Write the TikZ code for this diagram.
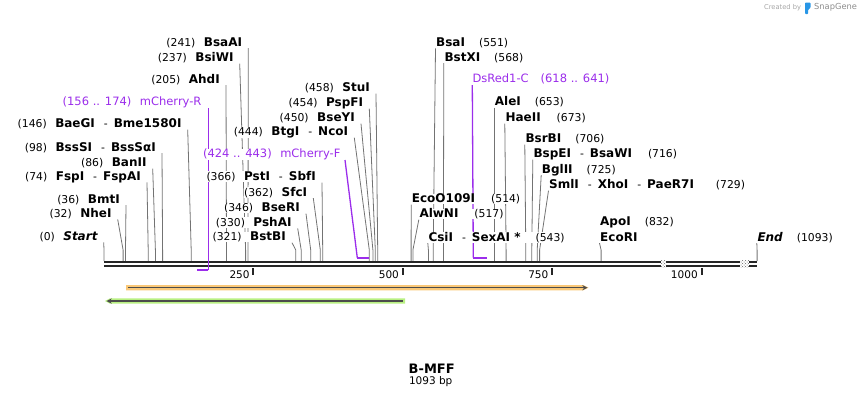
\documentclass[tikz,border=0pt]{standalone}
\usepackage{fontspec}
\setmainfont{DejaVu Sans}
\usetikzlibrary{calc,patterns,backgrounds}
\definecolor{primer}{RGB}{155,45,235}
\definecolor{orf}{RGB}{250,200,120}
\definecolor{gene}{RGB}{185,240,130}
\definecolor{logo}{RGB}{40,150,230}
\newcommand{\enz}[1]{{\fontsize{12}{14}\selectfont\bfseries #1}}
\newcommand{\enzsep}{\hspace{9pt}-\hspace{6pt}}
\newcommand{\leftcut}[2]{\draw[cutline] ($(#1.base east)+(6,2)$) -- ($(#2)+(0,-11)$) -- (#2);}
\newcommand{\rightcut}[2]{\draw[cutline] ($(#1.base west)+(-0.5,2)$) -- ($(#2)+(0,-11)$) -- (#2);}
\tikzset{
  site/.style={inner sep=0pt, fill=white, font=\fontsize{10.8}{13}\selectfont},
  lsite/.style={site, anchor=base east},
  rsite/.style={site, anchor=base west},
  oligo/.style={site, text=primer, font=\fontsize{11.5}{13}\selectfont},
  cutline/.style={draw=black!55, line width=0.8pt},
  oligoline/.style={draw=primer, line width=1.3pt},
  strand/.style={draw=black!85, line width=2.3pt},
  scaletick/.style={draw=black!85, line width=2pt},
  featline/.style={draw=black!70, line width=1.3pt}
}

\begin{document}
\begin{tikzpicture}[x=1pt,y=-1pt]
\useasboundingbox (0,0) rectangle (862,400);

\coordinate (s0) at (104,261);
\coordinate (s32) at (123.1,261);
\coordinate (s36) at (125.5,261);
\coordinate (s74) at (148.2,261);
\coordinate (s86) at (155.4,261);
\coordinate (s98) at (162.6,261);
\coordinate (s146) at (191.2,261);
\coordinate (s205) at (226.5,261);
\coordinate (s237) at (245.6,261);
\coordinate (s241) at (248,261);
\coordinate (s321) at (295.8,261);
\coordinate (s330) at (301.2,261);
\coordinate (s346) at (310.7,261);
\coordinate (s362) at (320.3,261);
\coordinate (s366) at (322.7,261);
\coordinate (s444) at (369.3,261);
\coordinate (s450) at (372.9,261);
\coordinate (s454) at (375.3,261);
\coordinate (s458) at (377.7,261);
\coordinate (s514) at (411.1,261);
\coordinate (s517) at (412.9,261);
\coordinate (s543) at (428.4,261);
\coordinate (s551) at (433.2,261);
\coordinate (s568) at (443.4,261);
\coordinate (s653) at (494.2,261);
\coordinate (s673) at (506.1,261);
\coordinate (s706) at (525.8,261);
\coordinate (s716) at (531.8,261);
\coordinate (s725) at (537.2,261);
\coordinate (s729) at (539.6,261);
\coordinate (s832) at (601.1,261);
\coordinate (s1093) at (757.1,261);
\coordinate (p156) at (197.2,270);
\coordinate (p174) at (208.3,270);
\coordinate (p424) at (357.3,257.7);
\coordinate (p443) at (368.7,257.7);
\coordinate (p618) at (473.3,257.7);
\coordinate (p641) at (487,257.7);

\node[lsite] (n241) at (242.3,46.1) {(241)\hspace{8.5pt}\enz{BsaAI}};
\node[lsite] (n237) at (233.7,61.6) {(237)\hspace{8.5pt}\enz{BsiWI}};
\node[lsite] (n205) at (220,83.1) {(205)\hspace{8.5pt}\enz{AhdI}};
\node[oligo, anchor=base east] (mchr) at (201.7,105) {(156 .. 174)\hspace{8.5pt}mCherry-R};
\node[lsite] (n146) at (181.7,127.7) {(146)\hspace{8.5pt}\enz{BaeGI}\enzsep\enz{Bme1580I}};
\node[lsite] (n98) at (156,151.1) {(98)\hspace{8.5pt}\enz{BssSI}\enzsep\enz{BssSαI}};
\node[lsite] (n86) at (146.7,166.6) {(86)\hspace{8.5pt}\enz{BanII}};
\node[lsite] (n74) at (141,180.4) {(74)\hspace{8.5pt}\enz{FspI}\enzsep\enz{FspAI}};
\node[lsite] (n36) at (120,203.1) {(36)\hspace{8.5pt}\enz{BmtI}};
\node[lsite] (n32) at (111.7,217.4) {(32)\hspace{8.5pt}\enz{NheI}};
\node[lsite] (begin) at (97.7,240.4) {(0)\hspace{8.5pt}\enz{\itshape Start}};

\node[lsite] (n458) at (370,91.6) {(458)\hspace{8.5pt}\enz{StuI}};
\node[lsite] (n454) at (363.3,106.6) {(454)\hspace{8.5pt}\enz{PspFI}};
\node[lsite] (n450) at (355,121.6) {(450)\hspace{8.5pt}\enz{BseYI}};
\node[lsite] (n444) at (348.3,135.7) {(444)\hspace{8.5pt}\enz{BtgI}\enzsep\enz{NcoI}};
\node[oligo, anchor=base east] (mchf) at (340.7,157.5) {(424 .. 443)\hspace{8.5pt}mCherry-F};
\node[lsite] (n366) at (316,180.6) {(366)\hspace{8.5pt}\enz{PstI}\enzsep\enz{SbfI}};
\node[lsite] (n362) at (307.3,196.1) {(362)\hspace{8.5pt}\enz{SfcI}};
\node[lsite] (n346) at (300,211.6) {(346)\hspace{8.5pt}\enz{BseRI}};
\node[lsite] (n330) at (291.7,226.4) {(330)\hspace{8.5pt}\enz{PshAI}};
\node[lsite] (n321) at (286,240.7) {(321)\hspace{8.5pt}\enz{BstBI}};

\node[rsite] (n551) at (436,46.4) {\enz{BsaI}\hspace{14pt}(551)};
\node[rsite] (n568) at (444.3,61.1) {\enz{BstXI}\hspace{14pt}(568)};
\node[oligo, anchor=base west] (dsred) at (472.3,82.5) {DsRed1-C\hspace{12pt}(618 .. 641)};
\node[rsite] (n653) at (494.7,105.7) {\enz{AleI}\hspace{14pt}(653)};
\node[rsite] (n673) at (505.3,121.6) {\enz{HaeII}\hspace{16pt}(673)};
\node[rsite] (n706) at (525.3,142.7) {\enz{BsrBI}\hspace{14pt}(706)};
\node[rsite] (n716) at (533.3,157.7) {\enz{BspEI}\enzsep\enz{BsaWI}\hspace{16pt}(716)};
\node[rsite] (n725) at (541.7,173.1) {\enz{BglII}\hspace{14pt}(725)};
\node[rsite] (n729) at (549,188.6) {\enz{SmlI}\enzsep\enz{XhoI}\enzsep\enz{PaeR7I}\hspace{22pt}(729)};
\node[rsite] (n514) at (411.7,202.7) {\enz{EcoO109I}\hspace{16pt}(514)};
\node[rsite] (n517) at (419.3,217.7) {\enz{AlwNI}\hspace{16pt}(517)};
\node[rsite] (n543) at (428.3,241.1) {\enz{CsiI}\enzsep\enz{SexAI *}\hspace{15pt}(543)};
\node[rsite] (n832) at (600,225.7) {\enz{ApoI}\hspace{14pt}(832)};
\node[rsite] (ecori) at (600,241.1) {\enz{EcoRI}};
\node[rsite] (finish) at (757.3,241.1) {\enz{\itshape End}\hspace{14pt}(1093)};

\begin{pgfonlayer}{background}
\leftcut{n241}{s241}
\leftcut{n237}{s237}
\leftcut{n205}{s205}
\leftcut{n146}{s146}
\leftcut{n98}{s98}
\leftcut{n86}{s86}
\leftcut{n74}{s74}
\leftcut{n36}{s36}
\leftcut{n32}{s32}
\leftcut{begin}{s0}
\leftcut{n458}{s458}
\leftcut{n454}{s454}
\leftcut{n450}{s450}
\leftcut{n444}{s444}
\leftcut{n366}{s366}
\leftcut{n362}{s362}
\leftcut{n346}{s346}
\leftcut{n330}{s330}
\leftcut{n321}{s321}
\rightcut{n551}{s551}
\rightcut{n568}{s568}
\rightcut{n653}{s653}
\rightcut{n673}{s673}
\rightcut{n706}{s706}
\rightcut{n716}{s716}
\rightcut{n725}{s725}
\rightcut{n729}{s729}
\rightcut{n514}{s514}
\rightcut{n517}{s517}
\rightcut{n543}{s543}
\rightcut{ecori}{s832}
\rightcut{finish}{s1093}
\draw[strand] (104,262.2) -- (757.3,262.2);
\draw[strand] (104,266.2) -- (757.3,266.2);
\fill[white] (661,260.8) rectangle (666,267.6);
\fill[pattern=crosshatch dots, pattern color=black!60] (661,260.8) rectangle (666,267.6);
\fill[white] (740,260.8) rectangle (749,267.6);
\fill[pattern=crosshatch dots, pattern color=black!60] (740,260.8) rectangle (749,267.6);
\draw[oligoline] ($(mchr.base east)+(6.6,3)$) -- (p174);
\draw[oligoline, line width=2pt] (p174) -- (p156);
\draw[oligoline] ($(mchf.base east)+(4.3,2.5)$) -- (p424);
\draw[oligoline, line width=2pt] (p424) -- (p443);
\draw[oligoline] ($(dsred.base west)+(0,2.5)$) -- (p618);
\draw[oligoline, line width=2pt] (p618) -- (p641);
\end{pgfonlayer}

\coordinate (t250) at (253.4,268.3);
\coordinate (t500) at (402.7,268.3);
\coordinate (t750) at (552.1,268.3);
\coordinate (t1000) at (701.5,268.3);
\draw[scaletick] (t250) -- ++(0,6.3);
\draw[scaletick] (t500) -- ++(0,6.3);
\draw[scaletick] (t750) -- ++(0,6.3);
\draw[scaletick] (t1000) -- ++(0,6.3);
\node[lsite, font=\fontsize{10.5}{12}\selectfont] (l250) at ($(t250)+(-3.6,9.7)$) {250};
\node[lsite, font=\fontsize{10.5}{12}\selectfont] (l500) at ($(t500)+(-3.6,9.7)$) {500};
\node[lsite, font=\fontsize{10.5}{12}\selectfont] (l750) at ($(t750)+(-3.6,9.7)$) {750};
\node[lsite, font=\fontsize{10.5}{12}\selectfont] (l1000) at ($(t1000)+(-3.6,9.7)$) {1000};

\fill[orf] (126,285) -- (583,285) -- (588.5,287.7) -- (583,290.4) -- (126,290.4) -- cycle;
\draw[featline, ->, >=stealth] (128,287.7) -- (587.5,287.7);
\fill[gene] (110,298.3) -- (405,298.3) -- (405,303.7) -- (110,303.7) -- (105,301) -- cycle;
\draw[featline, <-, >=stealth] (106.5,301) -- (403.3,301);

\node[inner sep=0pt, font=\fontsize{13}{15}\selectfont\bfseries] (title) at (431.7,368.3) {B-MFF};
\node[inner sep=0pt, font=\fontsize{10.5}{12}\selectfont] (length) at (430.7,382) {1093 bp};

\node[inner sep=0pt, anchor=west, text=black!35, font=\fontsize{6.7}{8}\selectfont] (credit) at (764,7.5) {Created by};
\fill[logo, rounded corners=0.8pt] (805,2.5) -- (810.5,2.5) -- (810.5,8) -- (808.2,9.5) -- (808.2,14) -- (805,14) -- cycle;
\node[inner sep=0pt, anchor=west, text=black!45, font=\fontsize{8.3}{10}\selectfont] (brand) at (814,7.5) {SnapGene};
\end{tikzpicture}
\end{document}
